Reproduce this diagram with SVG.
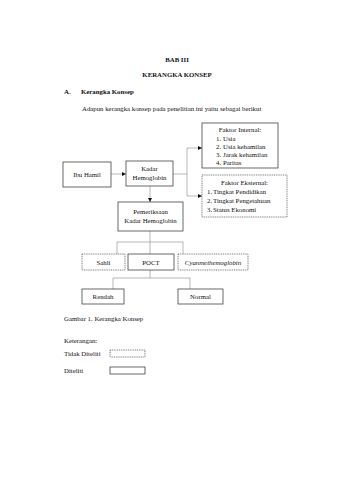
<svg xmlns="http://www.w3.org/2000/svg" width="340" height="480" viewBox="0 0 340 480">
<style>
text{font-family:"Liberation Serif","Times New Roman",serif;fill:#111;font-size:6.8px}
.b{font-weight:bold}
.c{text-anchor:middle}
.box{fill:none;stroke:#444;stroke-width:0.8}
.dash{fill:none;stroke:#555;stroke-width:0.8;stroke-dasharray:1,0.8}
.ln{fill:none;stroke:#999;stroke-width:0.7}
</style>
<defs>
<marker id="ah" viewBox="0 0 6 6" refX="6" refY="3" markerWidth="4" markerHeight="4" orient="auto" markerUnits="userSpaceOnUse">
<path d="M0,0 L6,3 L0,6 z" fill="#111"/>
</marker>
</defs>
<rect width="340" height="480" fill="#fff"/>
<g id="header">
<text class="b c" x="177" y="62">BAB III</text>
<text class="b c" x="177" y="77">KERANGKA KONSEP</text>
<text class="b" x="64" y="94">A.</text>
<text class="b" x="81" y="94">Kerangka Konsep</text>
<text x="82" y="111">Adapun kerangka konsep pada penelitian ini yaitu sebagai berikut</text>
</g>
<g id="connectors">
<line class="ln" x1="111" y1="174" x2="126" y2="174" marker-end="url(#ah)"/>
<polyline class="ln" points="173,174 187,174"/>
<line class="ln" x1="187" y1="148" x2="187" y2="196"/>
<line class="ln" x1="187" y1="148" x2="202" y2="148" marker-end="url(#ah)"/>
<line class="ln" x1="187" y1="196" x2="202" y2="196" marker-end="url(#ah)"/>
<line class="ln" x1="150" y1="186" x2="150" y2="202" marker-end="url(#ah)"/>
<line class="ln" x1="150" y1="231" x2="150" y2="242"/>
<polyline class="ln" points="117,254 117,242 183,242 183,254"/>
<line class="ln" x1="150" y1="242" x2="150" y2="254"/>
<line class="ln" x1="150" y1="270" x2="150" y2="278"/>
<polyline class="ln" points="113,289 113,278 190,278 190,289"/>
</g>
<g id="ibu-hamil">
<rect class="box" x="63" y="162" width="48" height="25"/>
<text class="c" x="87" y="176.5">Ibu Hamil</text>
</g>
<g id="kadar-hemoglobin">
<rect class="box" x="126" y="161" width="47" height="25"/>
<text class="c" x="149.5" y="171">Kadar</text>
<text class="c" x="149.5" y="180">Hemoglobin</text>
</g>
<g id="faktor-internal">
<rect class="box" x="202" y="123" width="76" height="45"/>
<text class="c" x="240" y="132">Faktor Internal:</text>
<text x="216" y="140.5">1.</text><text x="223" y="140.5">Usia</text>
<text x="216" y="148.5">2.</text><text x="223" y="148.5">Usia kehamilan</text>
<text x="216" y="156.5">3.</text><text x="223" y="156.5">Jarak kehamilan</text>
<text x="216" y="164.5">4.</text><text x="223" y="164.5">Paritas</text>
</g>
<g id="faktor-eksternal">
<rect class="dash" x="202" y="175" width="85" height="42"/>
<text class="c" x="244.5" y="185">Faktor Eksternal:</text>
<text x="207" y="194">1.</text><text x="213" y="194">Tingkat Pendidikan</text>
<text x="207" y="203">2.</text><text x="213" y="203">Tingkat Pengetahuan</text>
<text x="207" y="212">3.</text><text x="213" y="212">Status Ekonomi</text>
</g>
<g id="pemeriksaan">
<rect class="box" x="118" y="202" width="65" height="29"/>
<text class="c" x="150.5" y="214">Pemeriksaan</text>
<text class="c" x="150.5" y="223">Kadar Hemoglobin</text>
</g>
<g id="sahli">
<rect class="dash" x="82" y="254" width="43" height="16"/>
<text class="c" x="103.5" y="264.5">Sahli</text>
</g>
<g id="poct">
<rect class="box" x="128" y="254" width="46" height="16"/>
<text class="c" x="151" y="264.5">POCT</text>
</g>
<g id="cyanmethemoglobin">
<rect class="dash" x="178" y="254" width="70" height="16"/>
<text class="c" x="213" y="264.5" font-style="italic">Cyanmethemoglobin</text>
</g>
<g id="rendah">
<rect class="box" x="82" y="289" width="42" height="15"/>
<text class="c" x="103" y="299">Rendah</text>
</g>
<g id="normal">
<rect class="box" x="178" y="289" width="45" height="15"/>
<text class="c" x="200.5" y="299">Normal</text>
</g>
<g id="legend">
<text x="64" y="321">Gambar 1. Kerangka Konsep</text>
<text x="64" y="343">Keterangan:</text>
<text x="64" y="356">Tidak Diteliti</text>
<rect class="dash" x="110" y="350" width="35" height="7"/>
<text x="64" y="373">Diteliti</text>
<rect class="box" x="110" y="367" width="35" height="7"/>
</g>
</svg>
